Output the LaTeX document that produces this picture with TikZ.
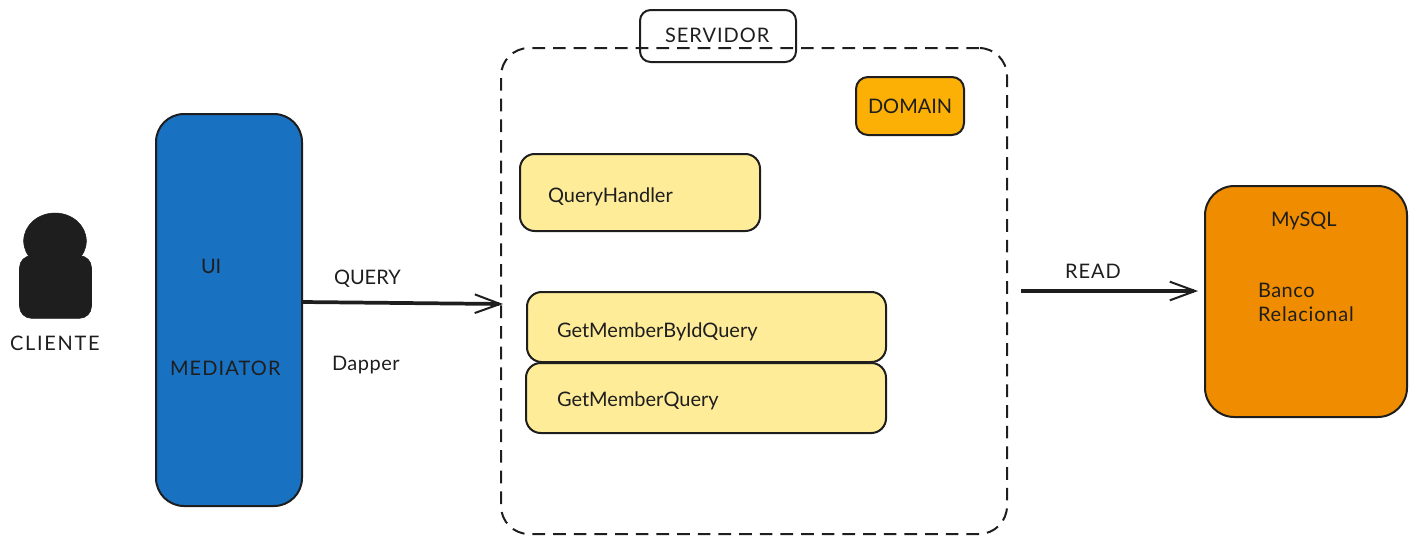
\documentclass[tikz,border=0pt]{standalone}
\usepackage{fontspec}
\setmainfont{Lato}
\usetikzlibrary{arrows.meta,shapes.geometric}
\definecolor{ink}{HTML}{1E1E1E}
\definecolor{uiblue}{HTML}{1971C2}
\definecolor{paleyellow}{HTML}{FFEC99}
\definecolor{amberbox}{HTML}{FCB005}
\definecolor{orangebox}{HTML}{F08C00}
\tikzset{
  roundbox/.style={draw=ink,line width=1.5pt,inner sep=0pt,outer sep=0pt,rectangle},
  label text/.style={text=ink,inner sep=0pt,outer sep=0pt,anchor=base west,font=\fontsize{15}{18}\selectfont},
  tracked/.style={label text,font=\fontsize{15}{18}\selectfont\addfontfeature{LetterSpace=#1}},
  flow/.style={draw=ink,line width=2.8pt,-{Straight Barb[length=19pt,width=14pt,line width=1.5pt]}}
}
\begin{document}
\begin{tikzpicture}[x=0.75pt,y=-0.75pt]
\useasboundingbox (0,0) rectangle (1416,544);
% client
\node[fill=ink,draw=ink,ellipse,minimum width=47pt,minimum height=42pt,inner sep=0pt,outer sep=0pt] (head) at (55,241) {};
\node[fill=ink,draw=ink,rectangle,rounded corners=9pt,minimum width=54pt,minimum height=47pt,inner sep=0pt,outer sep=0pt] (body) at (55.5,287) {};
\node[tracked=8.5] (cliente) at (10,350) {CLIENTE};
% UI
\node[roundbox,fill=uiblue,rounded corners=21pt,minimum width=109.5pt,minimum height=294pt] (ui) at (229,310) {};
\node[label text] (uilabel) at (201,273) {UI};
\node[tracked=5.6] (mediator) at (170,375) {MEDIATOR};
% server
\node[roundbox,dash pattern=on 9.5pt off 6pt,rounded corners=21pt,minimum width=379.5pt,minimum height=364.5pt] (server) at (754,291) {};
\node[roundbox,rounded corners=8pt,minimum width=117pt,minimum height=39pt] (servidor) at (718,36) {};
\node[tracked=5] (servidorlabel) at (665,42) {SERVIDOR};
\node[roundbox,fill=amberbox,rounded corners=9pt,minimum width=81pt,minimum height=43.5pt] (domain) at (910,106) {};
\node[label text] (domainlabel) at (868,113) {DOMAIN};
\node[roundbox,fill=paleyellow,rounded corners=11pt,minimum width=180pt,minimum height=57.75pt] (handler) at (640,192.5) {};
\node[label text] (handlerlabel) at (548,202) {QueryHandler};
\node[roundbox,fill=paleyellow,rounded corners=11pt,minimum width=269.25pt,minimum height=52.5pt] (byid) at (706.5,327) {};
\node[label text] (byidlabel) at (557,337) {GetMemberByIdQuery};
\node[roundbox,fill=paleyellow,rounded corners=11pt,minimum width=270pt,minimum height=52.5pt] (members) at (706,398) {};
\node[label text] (memberslabel) at (557,406) {GetMemberQuery};
% database
\node[roundbox,fill=orangebox,rounded corners=22pt,minimum width=151.5pt,minimum height=173.25pt] (db) at (1306,301.5) {};
\node[label text] (mysql) at (1271,226) {MySQL};
\node[tracked=2.5] (banco) at (1258,297) {Banco};
\node[tracked=4] (relacional) at (1258,321) {Relacional};
% connectors
\draw[flow] ([yshift=6pt]ui.east) -- ([xshift=1.5pt,yshift=-9.75pt]server.west);
\draw[flow] ([xshift=10.5pt]server.east) -- ([xshift=-5.25pt,yshift=7.875pt]db.west);
\node[label text] (query) at (334,284) {QUERY};
\node[tracked=2.5] (dapper) at (332,370) {Dapper};
\node[tracked=5] (read) at (1065,278) {READ};
\end{tikzpicture}
\end{document}
